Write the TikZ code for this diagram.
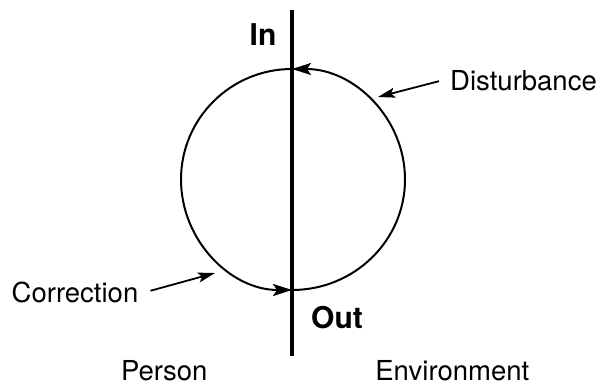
\documentclass[tikz,border=0pt]{standalone}
\usepackage{fontspec}
\setmainfont{TeX Gyre Heros}
\usetikzlibrary{arrows.meta}
\begin{document}
\begin{tikzpicture}[x=1pt,y=1pt,
  lbl/.style={inner sep=0pt,anchor=base,font=\fontsize{27.5}{27.5}\selectfont},
  blbl/.style={inner sep=0pt,anchor=base,font=\fontsize{30}{30}\selectfont\bfseries},
  loop/.style={line width=2pt,-{Stealth[length=19pt,width=12pt,inset=4pt]}},
  ptr/.style={line width=1.8pt,-{Stealth[length=17pt,width=10pt,inset=3.5pt]}}]
\useasboundingbox (0,0) rectangle (601,385);
% divider
\coordinate (ltop) at (292,375);
\coordinate (lbot) at (292,29);
\draw[line width=3.8pt] (ltop) -- (lbot);
% loop points
\coordinate (inpt) at (292,316);
\coordinate (outpt) at (292,95);
\draw[loop] (inpt) arc[start angle=90,end angle=270,x radius=111,y radius=110.5];
\draw[loop] (outpt) arc[start angle=-90,end angle=90,x radius=113,y radius=110.5];
% labels
\node[blbl] (in) at (263,339) {In};
\node[blbl] (out) at (337,56.7) {Out};
\node[lbl] (dist) at (523.5,294) {Disturbance};
\node[lbl] (corr) at (75,82.7) {Correction};
\node[lbl] (person) at (164.3,5) {Person};
\node[lbl] (env) at (452.3,5) {Environment};
% pointers
\coordinate (dtip) at (378,288);
\coordinate (ctip) at (215,112);
\draw[ptr] ([xshift=-11pt,yshift=0pt]dist.west) -- (dtip);
\draw[ptr] ([xshift=12pt,yshift=1.5pt]corr.east) -- (ctip);
\end{tikzpicture}
\end{document}
